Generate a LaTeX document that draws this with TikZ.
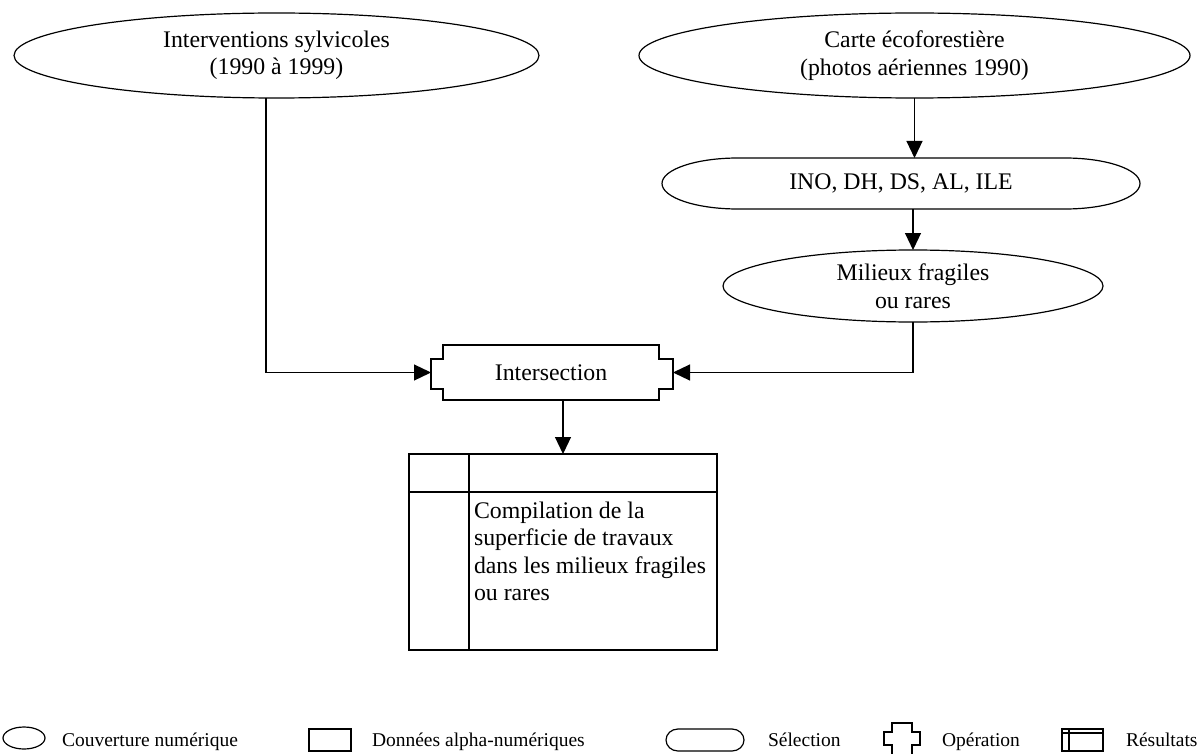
\documentclass[tikz,border=0pt]{standalone}
\usepackage{fontspec}
\setmainfont{Liberation Serif}
\usetikzlibrary{arrows.meta,calc,shapes.geometric}
\begin{document}
\begin{tikzpicture}[x=1pt,y=1pt,line width=1.2pt,
  txt/.style={inner sep=0pt,outer sep=0pt,align=center,font=\fontsize{23.8}{27.5}\selectfont},
  cover/.style={txt,draw,ellipse},
  legtxt/.style={inner sep=0pt,outer sep=0pt,anchor=base west,font=\fontsize{19.5}{23}\selectfont},
  legbox/.style={inner sep=0pt,outer sep=0pt,minimum height=22pt},
  arr/.style={-{Triangle[length=17pt,width=16pt]}}
]
\useasboundingbox (0,0) rectangle (1198,-754);

% --- coverages, selection, operation ---
\node[cover,minimum width=525pt,minimum height=85pt] (e1) at (276.5,-55.5)
  {Interventions sylvicoles\\(1990 à 1999)};
\node[cover,minimum width=551pt,minimum height=85pt] (e2) at (914.5,-55.5)
  {Carte écoforestière\\(photos aériennes 1990)};

\node[txt,minimum width=478pt,minimum height=51pt] (sel) at (901,-183.5) {INO, DH, DS, AL, ILE};
\draw ($(sel.north west)+(76,0)$) -- ($(sel.north east)+(-75,0)$)
  arc[start angle=90,end angle=-90,x radius=75,y radius=25.5]
  -- ($(sel.south west)+(76,0)$)
  arc[start angle=270,end angle=90,x radius=76,y radius=25.5] -- cycle;

\node[cover,minimum width=380pt,minimum height=72pt] (mil) at (913,-286)
  {Milieux fragiles\\ou rares};

\node[txt,minimum width=216pt,minimum height=55pt] (inter) at (551,-372.5) {Intersection};
\draw[shift={(inter.center)}]
  (-108,27.5) -- (108,27.5) -- (108,13.5) -- (122,13.5) -- (122,-16.5) -- (108,-16.5)
  -- (108,-27.5) -- (-108,-27.5) -- (-108,-16.5) -- (-120,-16.5) -- (-120,13.5)
  -- (-108,13.5) -- cycle;

% --- result table ---
\node[draw,inner sep=0pt,outer sep=0pt,minimum width=308pt,minimum height=196pt] (res) at (563,-552) {};
\draw ([xshift=60pt]res.north west) -- ([xshift=60pt]res.south west);
\draw ([yshift=-38pt]res.north west) -- ([yshift=-38pt]res.north east);
\node[txt,anchor=north west,align=left] (restxt) at (474,-501.5)
  {Compilation de la\\superficie de travaux\\dans les milieux fragiles\\ou rares};

% --- connectors ---
\draw[arr] (e2.south) -- (e2.south |- sel.north);
\draw[arr] (sel.south -| mil.north) -- (mil.north);
\draw[arr] ([xshift=-10.5pt]e1.south) |- ([xshift=-12pt]inter.west);
\draw[arr] (mil.south) |- ([xshift=14pt]inter.east);
\draw[arr] ([xshift=12pt]inter.south) -- ([xshift=12pt]inter.south |- res.north);

% --- legend ---
\node[legbox,draw,ellipse,minimum width=42pt] (lg1) at (24,-738) {};
\node[legtxt] (lt1) at (62,-746) {Couverture numérique};

\node[legbox,draw,minimum width=42pt] (lg2) at (330,-740) {};
\node[legtxt] (lt2) at (372,-746) {Données alpha-numériques};

\node[legbox,minimum width=78pt] (lg3) at (705,-740) {};
\draw ($(lg3.north west)+(12,0)$) -- ($(lg3.north east)+(-12,0)$)
  arc[start angle=90,end angle=-90,x radius=12,y radius=11]
  -- ($(lg3.south west)+(12,0)$)
  arc[start angle=270,end angle=90,x radius=12,y radius=11] -- cycle;
\node[legtxt] (lt3) at (768,-746) {Sélection};

\node[legbox,minimum width=36pt] (lg4) at (902,-738.5) {};
\draw[shift={(lg4.center)}]
  (-10,-15.5) -- (-10,-6.5) -- (-18,-6.5) -- (-18,6.5) -- (-10,6.5) -- (-10,15.5)
  -- (10,15.5) -- (10,6.5) -- (18,6.5) -- (18,-6.5) -- (10,-6.5) -- (10,-15.5);
\node[legtxt] (lt4) at (942,-746) {Opération};

\node[legbox,draw,minimum width=41pt] (lg5) at (1082.5,-740) {};
\draw ([xshift=7pt]lg5.north west) -- ([xshift=7pt]lg5.south west);
\draw ([yshift=-4pt]lg5.north west) -- ([yshift=-4pt]lg5.north east);
\node[legtxt] (lt5) at (1126,-746) {Résultats};
\end{tikzpicture}
\end{document}
